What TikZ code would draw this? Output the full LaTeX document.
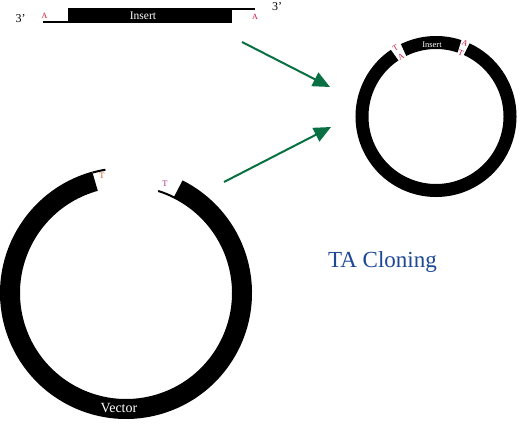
\documentclass[tikz,border=0pt]{standalone}
\usepackage{fontspec}
\setmainfont{Liberation Serif}
\usetikzlibrary{arrows.meta}
\definecolor{arrgreen}{RGB}{8,112,66}
\definecolor{tablue}{RGB}{28,72,150}
\definecolor{ared}{RGB}{200,20,55}
\definecolor{torange}{RGB}{220,90,30}
\definecolor{tmag}{RGB}{170,40,140}
\tikzset{
  ring/.style={line width=#1, line cap=butt, draw=black},
  strand/.style={line width=2, line cap=butt, draw=black},
  bigarrow/.style={draw=arrgreen, line width=2, -{Triangle[length=17,width=15]}, fill=arrgreen},
  base/.style={font=\fontsize{#1}{#1}\selectfont, inner sep=0, anchor=base},
  gapletter/.style={font=\fontsize{8}{8}\selectfont, inner sep=0, text=ared},
}
\begin{document}
\begin{tikzpicture}[x=1pt,y=-1pt]
\useasboundingbox[fill=white] (0,0) rectangle (522,427);
% ---------- Insert (linear) ----------
\fill (68,8.3) rectangle (232,22.6);
\draw[strand] (68,9.3) -- (255,9.3);
\draw[strand] (43,21.6) -- (232,21.6);
\node[base=11.5, text=white] (ins) at (143,19.5) {Insert};
\node[base=12] (p3l) at (20.5,22.5) {3’};
\node[base=12] (p3r) at (277,10.5) {3’};
\node[base=8, text=ared] (al) at (44.5,18.5) {A};
\node[base=8, text=ared] (ar) at (255,19.5) {A};
% ---------- Vector ----------
\coordinate (V) at (126,293);
\draw[ring=20] ([shift={(-105.5:116)}]V) arc[start angle=-105.5, end angle=-423.4, radius=116];
\draw[strand] ([shift={(-105.5:125)}]V) arc[start angle=-105.5, end angle=-99.5, radius=125];
\draw[strand] ([shift={(-63.4:107)}]V) arc[start angle=-63.4, end angle=-72.5, radius=107];
\node[base=8.5, text=torange] (tl) at (102,179) {T};
\node[base=8.5, text=tmag] (tr) at (165,187) {T};
\node[base=14, text=white] (vec) at (119,413) {Vector};
% ---------- Recombinant plasmid ----------
\coordinate (P) at (436,116.5);
\draw[ring=13] ([shift={(-124:74)}]P) arc[start angle=-124, end angle=-425.5, radius=74];
\draw[ring=13] ([shift={(-71.5:74)}]P) arc[start angle=-71.5, end angle=-116, radius=74];
\node[base=8.5, text=white] (ins2) at (432,47.5) {Insert};
\node[gapletter, rotate=31] (t1) at ([shift={(-120.5:80)}]P) {T};
\node[gapletter, rotate=31] (a1) at ([shift={(-120.5:69)}]P) {A};
\node[gapletter, rotate=-22] (a2) at ([shift={(-68.5:79)}]P) {A};
\node[gapletter, rotate=-22] (t2) at ([shift={(-68.5:68)}]P) {T};
% ---------- Arrows ----------
\coordinate (s1) at (242,42);
\coordinate (e1) at (330,87);
\coordinate (s2) at (224,182);
\coordinate (e2) at (331,127);
\draw[bigarrow] (s1) -- (e1);
\draw[bigarrow] (s2) -- (e2);
% ---------- Title ----------
\node[base=23, text=tablue] (title) at (382.5,268) {TA Cloning};
\end{tikzpicture}
\end{document}
